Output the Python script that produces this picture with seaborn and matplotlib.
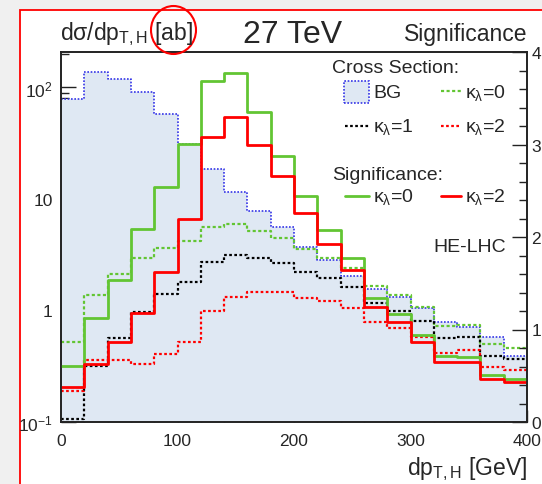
import matplotlib
matplotlib.use("Agg")
import matplotlib.pyplot as plt
import seaborn as sns
import numpy as np
import pandas as pd
from matplotlib.ticker import MultipleLocator, FixedLocator, FixedFormatter, NullFormatter
from matplotlib.patches import Rectangle, Ellipse
from matplotlib.lines import Line2D

# bin edges of the dp_T,H histograms [GeV]
edges = list(range(0, 420, 20))
centers = [e + 10 for e in edges[:-1]]

# cross sections [ab] (left, log axis)
bg = [78.9, 137, 119, 91, 57.8, 31.1, 18.6, 11.5, 7.76, 5.57,
      3.69, 2.84, 2.05, 1.56, 1.31, 1.05, 0.79, 0.716, 0.575, 0.393]
xs_k0 = [0.519, 1.39, 2.12, 2.96, 3.64, 4.23, 5.65, 5.97, 5.2, 4.44,
         3.56, 2.95, 2.41, 1.65, 1.39, 1.07, 0.73, 0.74, 0.50, 0.46]
xs_k1 = [0.106, 0.32, 0.566, 0.96, 1.40, 1.81, 2.74, 3.15, 2.94, 2.65,
         2.23, 1.96, 1.61, 1.17, 0.996, 0.81, 0.563, 0.582, 0.393, 0.367]
xs_k2 = [0.191, 0.36, 0.36, 0.331, 0.407, 0.525, 0.98, 1.32, 1.45, 1.45,
         1.29, 1.21, 1.05, 0.79, 0.70, 0.575, 0.42, 0.44, 0.313, 0.293]

# significance (right, linear axis)
sig_k0 = [0.61, 1.12, 1.54, 2.09, 2.54, 3.01, 3.69, 3.77, 3.35, 2.88,
          2.44, 2.08, 1.77, 1.34, 1.17, 0.94, 0.71, 0.70, 0.51, 0.46]
sig_k2 = [0.375, 0.63, 0.87, 1.18, 1.62, 2.19, 3.08, 3.30, 3.00, 2.66,
          2.26, 1.92, 1.64, 1.24, 1.08, 0.865, 0.65, 0.645, 0.46, 0.43]

df = pd.DataFrame({"pt": centers, "bg": bg, "k0": xs_k0, "k1": xs_k1, "k2": xs_k2,
                   "s0": sig_k0, "s2": sig_k2})

sns.set_style("ticks")
plt.rcParams['font.family'] = ['Liberation Sans', 'DejaVu Sans']
plt.rcParams['mathtext.fontset'] = 'custom'
plt.rcParams['mathtext.rm'] = 'Liberation Sans'
plt.rcParams['mathtext.it'] = 'Liberation Sans:italic'
plt.rcParams['mathtext.bf'] = 'Liberation Sans:bold'

GREEN = '#62c533'
RED = '#ff0000'
BLUE = '#3535e8'
FILL = '#dfe8f3'

W, H = 542, 485
fig = plt.figure(figsize=(W / 100, H / 100), dpi=100, facecolor='#f0f0f0')

def fx(x):
    return x / W

def fy(y):
    return 1 - y / H

# red page frame
fig.add_artist(Rectangle((fx(20), -0.2), 1.5, fy(11) + 0.2, transform=fig.transFigure,
                         facecolor='white', edgecolor=RED, lw=1.3, zorder=-10))

ax = fig.add_axes([fx(61), fy(423), fx(527) - fx(61), fy(53) - fy(423)])
ax.set_facecolor('white')
ax.set_yscale('log')

hk = dict(x="pt", bins=edges, element="step", ax=ax, legend=False)
sns.histplot(data=df, weights="bg", fill=True, color=FILL, alpha=1, linewidth=0, **hk)
sns.histplot(data=df, weights="bg", fill=False, color=BLUE, linewidth=1.2,
             linestyle=(0, (1, 1)), **hk)
sns.histplot(data=df, weights="k0", fill=False, color=GREEN, linewidth=1.6,
             linestyle=(0, (1.4, 1.1)), **hk)
sns.histplot(data=df, weights="k1", fill=False, color='black', linewidth=1.6,
             linestyle=(0, (1.2, 1.1)), **hk)
sns.histplot(data=df, weights="k2", fill=False, color=RED, linewidth=1.6,
             linestyle=(0, (1.2, 1.1)), **hk)

ax2 = ax.twinx()
hk2 = dict(hk, ax=ax2)
sns.histplot(data=df, weights="s0", fill=False, color=GREEN, linewidth=2.0, **hk2)
sns.histplot(data=df, weights="s2", fill=False, color=RED, linewidth=2.0, **hk2)

ax.set_xlim(0, 400)
ax.set_ylim(0.1, 208)
ax2.set_ylim(0, 4)

for a in (ax, ax2):
    a.set_xlabel('')
    a.set_ylabel('')
    for s in a.spines.values():
        s.set_visible(True)
        s.set_linewidth(1.2)
        s.set_color('#222222')

ax.xaxis.set_major_locator(MultipleLocator(100))
ax.xaxis.set_minor_locator(MultipleLocator(20))
ax.yaxis.set_major_locator(FixedLocator([0.1, 1, 10, 100]))
ax.yaxis.set_major_formatter(FixedFormatter(['$10^{-1}$', '1', '10', '$10^{2}$']))
minors = [m * 10.0 ** d for d in (-1, 0, 1, 2) for m in range(2, 10)]
ax.yaxis.set_minor_locator(FixedLocator(minors))
ax.yaxis.set_minor_formatter(NullFormatter())
ax.tick_params(which='both', direction='in', top=False, right=False, labelsize=12.5,
               width=1.0, color='#222222')
ax.tick_params(axis='x', which='major', length=9, pad=8)
ax.tick_params(axis='x', which='minor', length=5)
ax.tick_params(axis='y', which='major', length=11, pad=6)
ax.tick_params(axis='y', which='minor', length=6)

ax2.yaxis.set_major_locator(MultipleLocator(1))
ax2.yaxis.set_minor_locator(MultipleLocator(0.2))
ax2.tick_params(which='both', direction='in', labelsize=12.5, width=1.0, color='#222222')
ax2.tick_params(which='major', length=11, pad=3)
ax2.tick_params(which='minor', length=6)

# header texts
fig.text(fx(60), fy(40), 'dσ/dp$_{\\mathrm{T,H}}$ [ab]', fontsize=16.5, va='baseline', ha='left')
fig.text(fx(243), fy(43), '27 TeV', fontsize=23, va='baseline', ha='left')
fig.text(fx(527), fy(41), 'Significance', fontsize=16.5, va='baseline', ha='right')
fig.add_artist(Ellipse((fx(173.5), fy(31)), fx(45), 48 / H, transform=fig.transFigure,
                       fill=False, edgecolor=RED, lw=1.5))

# x label
fig.text(fx(527), fy(475), 'dp$_{\\mathrm{T,H}}$ [GeV]', fontsize=16.5, va='baseline', ha='right')

# legend
LFS = 14
fig.text(fx(332), fy(69), 'Cross Section:', fontsize=LFS, va='center', ha='left')
fig.add_artist(Rectangle((fx(344), fy(104)), fx(25), 22 / H, transform=fig.transFigure,
                         facecolor=FILL, edgecolor=BLUE, lw=1.2, linestyle=(0, (1, 1))))
fig.text(fx(373), fy(93), 'BG', fontsize=LFS, va='center', ha='left')

def key(x0, x1, y, color, lw, ls):
    fig.add_artist(Line2D([fx(x0), fx(x1)], [fy(y), fy(y)], transform=fig.transFigure,
                          color=color, lw=lw, linestyle=ls))

kl = 'κ$_{\\mathrm{λ}}$='
key(441, 461, 92, GREEN, 1.6, (0, (1.4, 1.1)))
fig.text(fx(465), fy(93), kl + '0', fontsize=LFS, va='center', ha='left')
key(345, 369, 127, 'black', 1.6, (0, (1.2, 1.1)))
fig.text(fx(373), fy(127), kl + '1', fontsize=LFS, va='center', ha='left')
key(441, 461, 127, RED, 1.6, (0, (1.2, 1.1)))
fig.text(fx(465), fy(127), kl + '2', fontsize=LFS, va='center', ha='left')

fig.text(fx(332), fy(176), 'Significance:', fontsize=LFS, va='center', ha='left')
key(345, 369, 197, GREEN, 2.0, '-')
fig.text(fx(373), fy(197), kl + '0', fontsize=LFS, va='center', ha='left')
key(441, 461, 197, RED, 2.0, '-')
fig.text(fx(465), fy(197), kl + '2', fontsize=LFS, va='center', ha='left')

fig.text(fx(433), fy(248), 'HE-LHC', fontsize=LFS, va='center', ha='left')

fig.savefig('out.png', dpi=100, facecolor=fig.get_facecolor())
